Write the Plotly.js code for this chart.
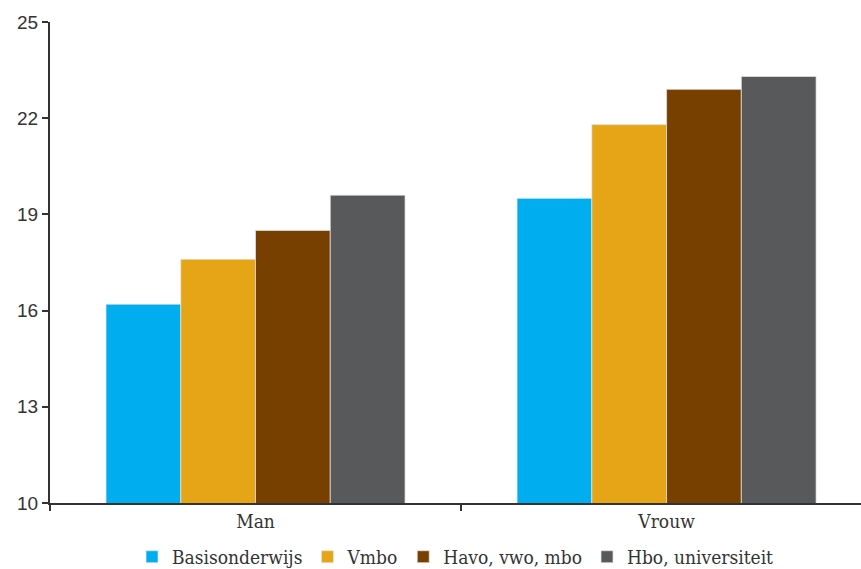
<!DOCTYPE html>
<html><head><meta charset="utf-8">
<script src="https://cdn.plot.ly/plotly-3.0.1.min.js"></script>
<style>html,body{margin:0;padding:0;background:#fff}#chart{width:861px;height:569px}</style>
</head><body><div id="chart"></div>
<script>
const categories = ["Man", "Vrouw"];
const seriesNames = ["Basisonderwijs", "Vmbo", "Havo, vwo, mbo", "Hbo, universiteit"];
const basisonderwijs = [16.2, 19.5];
const vmbo = [17.6, 21.8];
const havo = [18.5, 22.9];
const hbo = [19.6, 23.3];
const yTicks = [10, 13, 16, 19, 22, 25];
const colors = ["#00AEEF", "#E6A517", "#773F00", "#58595B"];

const values = [basisonderwijs, vmbo, havo, hbo];
const traces = values.map((v, i) => ({
  type: "bar", x: categories, y: v, name: seriesNames[i],
  marker: {color: colors[i], line: {color: "rgba(230,230,230,0.9)", width: 0.8}},
  hoverinfo: "skip"
}));

const serif = "DejaVu Serif Condensed, DejaVu Serif, serif";
const layout = {
  width: 861, height: 569,
  margin: {l: 50, r: 0, t: 22, b: 66, autoexpand: false},
  paper_bgcolor: "#fff", plot_bgcolor: "#fff",
  barmode: "group", bargap: 0.2725, bargroupgap: 0,
  showlegend: true,
  legend: {orientation: "h", x: 0.5, xanchor: "center", xref: "paper", y: -0.112, yanchor: "middle",
           font: {family: serif, size: 19, color: "#333"},
           itemwidth: 30, tracegroupgap: 0},
  xaxis: {
    range: [-0.5, 1.473], fixedrange: true,
    showline: true, linecolor: "#333", linewidth: 2,
    ticks: "outside", tickson: "boundaries", ticklen: 6, tickcolor: "#333", tickwidth: 2,
    showgrid: false, zeroline: false,
    tickfont: {family: serif, size: 19, color: "#333"}
  },
  yaxis: {
    range: [10, 25], tickvals: yTicks, ticktext: yTicks.map(String),
    showline: true, linecolor: "#333", linewidth: 2,
    ticks: "outside", ticklen: 6, tickcolor: "#333", tickwidth: 2,
    showgrid: false, zeroline: false,
    tickfont: {family: "Liberation Sans, Arial, sans-serif", size: 19, color: "#333"}
  }
};
Plotly.newPlot("chart", traces, layout, {displayModeBar: false, staticPlot: true});
</script></body></html>
